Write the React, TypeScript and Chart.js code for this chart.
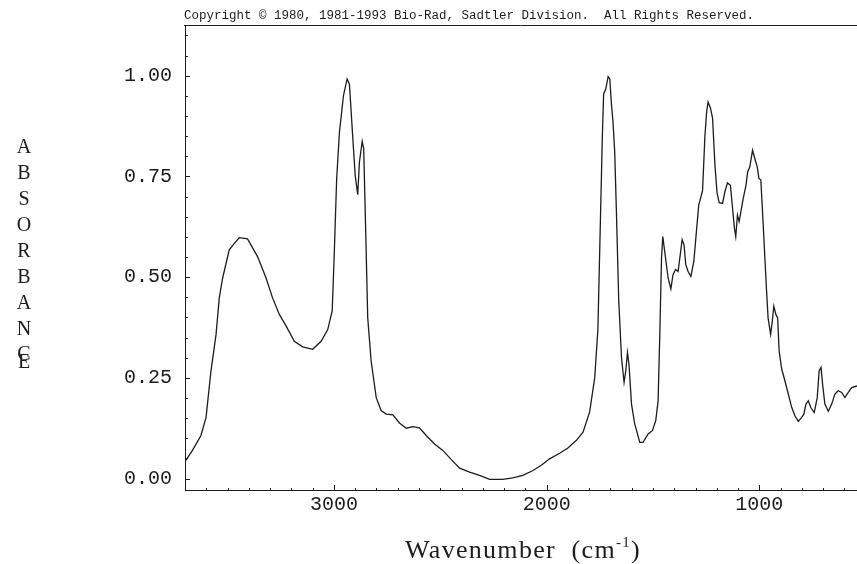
import React, { useEffect, useRef } from 'react';
import { Chart, registerables } from 'chart.js';

Chart.register(...registerables);

// Wavenumbers (cm-1) of the traced points, high to low
const wavenumbers = [
  3696, 3665, 3625, 3601, 3578, 3554, 3539, 3523, 3492, 3468, 3445, 3406, 3359, 3319, 3288, 3256,
  3225, 3186, 3147, 3100, 3060, 3029, 3008, 2998, 2987, 2974, 2955, 2938, 2927, 2912, 2900, 2888,
  2880, 2867, 2860, 2852, 2841, 2825, 2801, 2778, 2754, 2723, 2692, 2660, 2629, 2598, 2566, 2527,
  2488, 2448, 2409, 2362, 2315, 2268, 2206, 2159, 2112, 2064, 2025, 1986, 1939, 1900, 1860, 1829,
  1798, 1774, 1759, 1747, 1738, 1732, 1722, 1711, 1703, 1696, 1688, 1680, 1672, 1661, 1648, 1636,
  1628, 1620, 1613, 1601, 1586, 1562, 1547, 1523, 1503, 1487, 1476, 1468, 1460, 1454, 1445, 1429,
  1416, 1406, 1394, 1382, 1374, 1363, 1354, 1346, 1335, 1322, 1308, 1296, 1285, 1267, 1256, 1248,
  1241, 1230, 1220, 1209, 1199, 1189, 1173, 1162, 1150, 1136, 1126, 1117, 1111, 1103, 1095, 1087,
  1076, 1063, 1055, 1045, 1032, 1021, 1010, 1002, 993, 985, 974, 966, 959, 947, 940, 932,
  922, 914, 907, 895, 880, 864, 848, 833, 817, 801, 791, 781, 770, 759, 742, 728,
  719, 710, 703, 692, 676, 660, 645, 629, 613, 598, 582, 566, 541,
];

// Absorbance at each wavenumber
const absorbance = [
  0.045, 0.07, 0.107, 0.152, 0.267, 0.358, 0.448, 0.498, 0.568, 0.584, 0.598, 0.595, 0.551, 0.498, 0.448, 0.407,
  0.379, 0.341, 0.327, 0.321, 0.341, 0.37, 0.416, 0.564, 0.745, 0.86, 0.951, 0.992, 0.979, 0.852, 0.753, 0.705,
  0.786, 0.837, 0.819, 0.646, 0.399, 0.292, 0.201, 0.169, 0.16, 0.158, 0.138, 0.125, 0.129, 0.126, 0.107, 0.086,
  0.07, 0.047, 0.026, 0.016, 0.008, -0.002, -0.002, 0.002, 0.008, 0.02, 0.033, 0.049, 0.063, 0.076, 0.095, 0.115,
  0.165, 0.25, 0.37, 0.646, 0.852, 0.955, 0.967, 0.998, 0.992, 0.934, 0.885, 0.811, 0.663, 0.441, 0.3, 0.239,
  0.267, 0.313, 0.284, 0.185, 0.136, 0.09, 0.09, 0.111, 0.119, 0.144, 0.193, 0.358, 0.547, 0.601, 0.564, 0.498,
  0.471, 0.506, 0.519, 0.514, 0.547, 0.593, 0.58, 0.531, 0.514, 0.502, 0.539, 0.613, 0.679, 0.715, 0.85, 0.909,
  0.935, 0.92, 0.895, 0.78, 0.71, 0.685, 0.683, 0.712, 0.734, 0.728, 0.671, 0.621, 0.601, 0.654, 0.638, 0.662,
  0.695, 0.728, 0.761, 0.774, 0.815, 0.794, 0.774, 0.745, 0.741, 0.662, 0.547, 0.465, 0.399, 0.358, 0.387, 0.428,
  0.407, 0.399, 0.317, 0.272, 0.243, 0.21, 0.177, 0.156, 0.142, 0.152, 0.16, 0.185, 0.193, 0.177, 0.164, 0.201,
  0.267, 0.276, 0.235, 0.185, 0.167, 0.185, 0.21, 0.218, 0.214, 0.201, 0.214, 0.226, 0.23,
];

const xTickValues = [3000, 2000, 1000];
const yTickValues = [0, 0.25, 0.5, 0.75, 1.0];
const copyrightText = 'Copyright \u00A9 1980, 1981-1993 Bio-Rad, Sadtler Division.  All Rights Reserved.';
const yTitleLetters = ['A', 'B', 'S', 'O', 'R', 'B', 'A', 'N', 'C', 'E'];
const xTitleMain = 'Wavenumber  (cm';
const xTitleSup = '-1';
const xTitleEnd = ')';

const X_MIN = 541;
const X_MAX = 3700;
const Y_MIN = -0.0283;
const Y_MAX = 1.126;

const INK = '#1c1c1c';

const decorPlugin = {
  id: 'decor',
  afterDraw(chart: any) {
    const ctx = chart.ctx;
    const { left, top, bottom } = chart.chartArea;
    const xs = chart.scales.x;
    const ys = chart.scales.y;
    ctx.save();
    ctx.strokeStyle = INK;
    ctx.lineWidth = 1;
    ctx.beginPath();
    // top rule under copyright line
    ctx.moveTo(left - 1, top + 0.5);
    ctx.lineTo(chart.width, top + 0.5);
    // inward y ticks
    for (let i = 0; i <= 22; i++) {
      const v = i * 0.05;
      const y = Math.round(ys.getPixelForValue(v)) + 0.5;
      const major = i % 5 === 0;
      ctx.moveTo(left, y);
      ctx.lineTo(left + (major ? 5 : 3), y);
    }
    // inward x ticks
    for (let w = 600; w <= 3700; w += 100) {
      const x = Math.round(xs.getPixelForValue(w)) + 0.5;
      const major = w % 1000 === 0;
      ctx.moveTo(x, bottom);
      ctx.lineTo(x, bottom - (major ? 5 : 2));
    }
    ctx.stroke();

    // copyright
    ctx.fillStyle = INK;
    ctx.font = '12.5px "Liberation Mono", "Courier New", monospace';
    ctx.textAlign = 'left';
    ctx.textBaseline = 'alphabetic';
    ctx.fillText(copyrightText, 184, 18.5);

    // y title stacked letters
    ctx.font = '20px "Liberation Serif", "Times New Roman", serif';
    ctx.textAlign = 'center';
    ctx.textBaseline = 'middle';
    yTitleLetters.forEach((ch, i) => {
      const y = i < 9 ? 148 + i * 25.9 : 148 + 8 * 25.9 + 8;
      ctx.fillText(ch, 24, y);
    });

    // x title with superscript
    const mainFont = '26px "Liberation Serif", "Times New Roman", serif';
    const supFont = '15px "Liberation Serif", "Times New Roman", serif';
    ctx.textAlign = 'left';
    ctx.textBaseline = 'alphabetic';
    (ctx as any).letterSpacing = '1.3px';
    ctx.font = mainFont;
    const w1 = ctx.measureText(xTitleMain).width;
    const w3 = ctx.measureText(xTitleEnd).width;
    ctx.font = supFont;
    const w2 = ctx.measureText(xTitleSup).width;
    const total = w1 + w2 + w3;
    const cx = 523;
    const baseY = 558;
    const x0 = cx - total / 2;
    ctx.font = mainFont;
    ctx.fillText(xTitleMain, x0, baseY);
    ctx.font = supFont;
    ctx.fillText(xTitleSup, x0 + w1, baseY - 11);
    ctx.font = mainFont;
    ctx.fillText(xTitleEnd, x0 + w1 + w2, baseY);
    (ctx as any).letterSpacing = '0px';
    ctx.restore();
  },
};

export default function App() {
  const canvasRef = useRef<HTMLCanvasElement>(null);

  useEffect(() => {
    const canvas = canvasRef.current;
    if (!canvas) return;
    const points = wavenumbers.map((w, i) => ({ x: w, y: absorbance[i] }));
    const chart = new Chart(canvas, {
      type: 'line',
      data: {
        datasets: [
          {
            data: points,
            borderColor: INK,
            borderWidth: 1.3,
            pointRadius: 0,
            tension: 0,
            fill: false,
          },
        ],
      },
      options: {
        animation: false,
        responsive: false,
        maintainAspectRatio: false,
        layout: { padding: { top: 22, left: 0, right: 0, bottom: 0 } },
        plugins: { legend: { display: false }, tooltip: { enabled: false }, title: { display: false } },
        scales: {
          x: {
            type: 'linear',
            reverse: true,
            min: X_MIN,
            max: X_MAX,
            afterBuildTicks: (s: any) => {
              s.ticks = xTickValues.map((v) => ({ value: v }));
            },
            afterFit: (s: any) => {
              s.height = 74;
            },
            grid: { display: false, drawTicks: false },
            border: { display: true, color: INK, width: 1 },
            ticks: {
              padding: 3,
              color: INK,
              font: { family: '"Liberation Mono", "Courier New", monospace', size: 20 },
              callback: (v: any) => String(v),
              maxRotation: 0,
              autoSkip: false,
            },
          },
          y: {
            type: 'linear',
            min: Y_MIN,
            max: Y_MAX,
            afterBuildTicks: (s: any) => {
              s.ticks = yTickValues.map((v) => ({ value: v }));
            },
            afterFit: (s: any) => {
              s.width = 185;
            },
            grid: { display: false, drawTicks: false },
            border: { display: true, color: INK, width: 1 },
            ticks: {
              padding: 13,
              color: INK,
              font: { family: '"Liberation Mono", "Courier New", monospace', size: 20 },
              callback: (v: any) => Number(v).toFixed(2),
              autoSkip: false,
            },
          },
        },
      },
      plugins: [decorPlugin],
    });
    return () => chart.destroy();
  }, []);

  return (
    <div style={{ position: 'fixed', left: 0, top: 0, width: 857, height: 564, background: '#fff' }}>
      <canvas ref={canvasRef} width={857} height={564} style={{ display: 'block' }} />
    </div>
  );
}
